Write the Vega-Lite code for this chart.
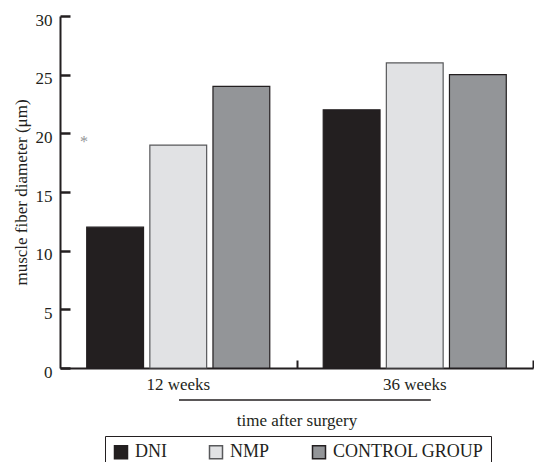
{
  "$schema": "https://vega.github.io/schema/vega-lite/v6.json",
  "width": 473,
  "height": 352,
  "autosize": {"type": "none"},
  "padding": {"left": 60, "top": 16, "right": 1, "bottom": 94},
  "background": "white",
  "config": {
    "view": {"stroke": null},
    "font": "Liberation Serif",
    "axis": {"grid": false, "labelFont": "Liberation Serif", "titleFont": "Liberation Serif", "titleFontWeight": "normal"}
  },
  "datasets": {
    "bars": [
      {"time": "12 weeks", "group": "DNI", "diameter": 12},
      {"time": "12 weeks", "group": "NMP", "diameter": 19},
      {"time": "12 weeks", "group": "CONTROL GROUP", "diameter": 24},
      {"time": "36 weeks", "group": "DNI", "diameter": 22},
      {"time": "36 weeks", "group": "NMP", "diameter": 26},
      {"time": "36 weeks", "group": "CONTROL GROUP", "diameter": 25}
    ]
  },
  "layer": [
    {
      "data": {"name": "bars"},
      "mark": {"type": "bar", "strokeWidth": 1.2},
      "encoding": {
        "x": {
          "field": "time", "type": "nominal", "sort": ["12 weeks", "36 weeks"],
          "scale": {"paddingInner": 0.226, "paddingOuter": 0.113},
          "axis": {
            "title": "time after surgery", "labelAngle": 0,
            "domainColor": "#231f20", "domainWidth": 2,
            "ticks": false,
            "labelFontSize": 17, "labelColor": "#231f20", "labelPadding": 8,
            "titleFontSize": 17, "titleColor": "#231f20", "titlePadding": 20
          }
        },
        "xOffset": {
          "field": "group", "type": "nominal", "sort": ["DNI", "NMP", "CONTROL GROUP"],
          "scale": {"paddingInner": 0.1, "paddingOuter": 0}
        },
        "y": {
          "field": "diameter", "type": "quantitative",
          "scale": {"domain": [0, 30], "nice": false, "zero": true},
          "axis": {
            "title": "muscle fiber diameter (μm)", "values": [0, 5, 10, 15, 20, 25, 30],
            "domainColor": "#231f20", "domainWidth": 2,
            "tickColor": "#231f20", "tickWidth": 2.5, "tickSize": -10,
            "labelFontSize": 17, "labelColor": "#231f20", "labelPadding": 18, "labelOffset": 4,
            "titleFontSize": 17, "titleColor": "#231f20", "titlePadding": 5
          }
        },
        "fill": {
          "field": "group", "type": "nominal", "sort": ["DNI", "NMP", "CONTROL GROUP"],
          "scale": {"domain": ["DNI", "NMP", "CONTROL GROUP"], "range": ["#231f20", "#e1e2e4", "#939598"]},
          "legend": {
            "orient": "none", "legendX": 45, "legendY": 420, "direction": "horizontal", "title": null,
            "strokeColor": "#231f20", "padding": 7,
            "symbolType": "square", "symbolSize": 169, "symbolStrokeColor": "#231f20", "symbolStrokeWidth": 1.5,
            "symbolOpacity": 1, "labelFontSize": 18, "labelFont": "Liberation Serif", "labelColor": "#231f20",
            "columnPadding": 39, "labelOffset": 5
          }
        },
        "stroke": {
          "field": "group", "type": "nominal",
          "scale": {"domain": ["DNI", "NMP", "CONTROL GROUP"], "range": ["#231f20", "#58595b", "#231f20"]},
          "legend": null
        }
      }
    },
    {
      "data": {"values": [{}]},
      "layer": [
        {
          "mark": {"type": "rule", "color": "#231f20", "strokeWidth": 1.5},
          "encoding": {
            "x": {
              "datum": 0.2516, "type": "quantitative", "scale": {"domain": [0, 1], "nice": false, "zero": false},
              "axis": {
                "orient": "bottom", "values": [0.5, 1], "labels": false, "domain": false, "title": null,
                "tickSize": -8, "tickWidth": 2, "tickColor": "#231f20", "tickOpacity": 1
              }
            },
            "x2": {"datum": 0.784},
            "y": {"datum": -2.73, "type": "quantitative", "scale": {"domain": [0, 30], "nice": false}}
          }
        },
        {
          "mark": {"type": "text", "color": "#939598", "fontSize": 16, "baseline": "middle", "align": "center"},
          "encoding": {
            "x": {"datum": 0.0507, "type": "quantitative"},
            "y": {"datum": 19.25, "type": "quantitative", "scale": {"domain": [0, 30], "nice": false}},
            "text": {"value": "*"}
          }
        }
      ]
    }
  ],
  "resolve": {"scale": {"x": "independent"}}
}
